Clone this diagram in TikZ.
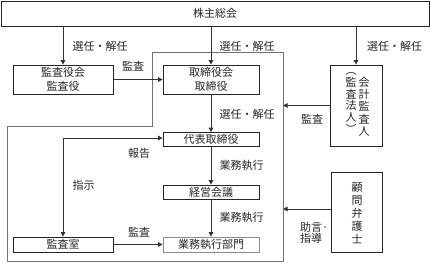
\documentclass[tikz,border=0pt]{standalone}
\usepackage{fontspec}
\newfontfamily\jp{Noto Sans CJK JP}
\usetikzlibrary{arrows.meta}
\begin{document}
\begin{tikzpicture}[x=1pt,y=-1pt,
  font=\jp\fontsize{11}{14.5}\selectfont,
  box/.style={draw=black!85,line width=0.8pt,inner sep=0pt,align=center,text=black!85},
  graybox/.style={box,draw=black!45},
  arr/.style={draw=black!80,line width=1pt,-{Triangle[length=4.5pt,width=4.5pt]}},
  dblarr/.style={draw=black!80,line width=1pt,{Triangle[length=4.5pt,width=4.5pt]}-{Triangle[length=4.5pt,width=4.5pt]}},
  outerline/.style={draw=black!55,line width=0.8pt},
  lbl/.style={inner sep=0pt,text=black!85},
  vcol/.style={inner sep=0pt,align=center,text=black!85}]
\useasboundingbox (0,0) rectangle (430,271);

% outer frame
\draw[outerline] (152,52) -- (283,52) -- (283,261) -- (7,261) -- (7,126) -- (152,126) -- cycle;
\coordinate (oR) at (283,150);

% boxes
\node[box,minimum width=428pt,minimum height=25pt] (kabu) at (215,13.5) {株主総会};
\node[box,minimum width=100pt,minimum height=29pt] (kansayaku) at (63,79.5) {監査役会\\監査役};
\node[box,minimum width=96pt,minimum height=29pt] (tori) at (211,79.5) {取締役会\\取締役};
\node[box,minimum width=52pt,minimum height=81pt] (kaikei) at (356,105.5) {};
\node[vcol,font=\jp\fontsize{11}{12.3}\selectfont] (kaikeiA) at (364,106.5) {会\\計\\監\\査\\人};
\node[vcol,font=\jp\fontsize{11}{11.7}\selectfont] (kaikeiB) at (351,103) {︵\\監\\査\\法\\人\\︶};
\node[box,minimum width=96pt,minimum height=14pt] (daihyo) at (211,139.5) {代表取締役};
\node[box,minimum width=96pt,minimum height=14pt] (keiei) at (211,192) {経営会議};
\node[graybox,minimum width=96pt,minimum height=15pt] (gyomu) at (211,244.5) {業務執行部門};
\node[box,minimum width=100pt,minimum height=15pt] (kansashitsu) at (63,244.5) {監査室};
\node[box,minimum width=51pt,minimum height=80pt] (komon) at (356.5,212) {};
\node[vcol,font=\jp\fontsize{11}{13}\selectfont] (komonT) at (357,213.5) {顧\\問\\弁\\護\\士};

% arrows
\draw[arr] (kabu.south -| kansayaku.north) -- (kansayaku.north);
\draw[arr] (kabu.south -| tori.north) -- (tori.north);
\draw[arr] (kabu.south -| kaikei.north) -- (kaikei.north);
\draw[arr] (kansayaku.east) -- (tori.west);
\draw[arr] (tori.south) -- (daihyo.north);
\draw[arr] (daihyo.south) -- (keiei.north);
\draw[arr] (keiei.south) -- (gyomu.north);
\draw[arr] (kansashitsu.east) -- (gyomu.west);
\coordinate (corner) at (63,138);
\draw[dblarr] (kansashitsu.north) -- (corner) -- (corner -| daihyo.west);
\draw[arr] (kaikei.west) -- (kaikei.west -| oR);
\draw[arr] ([yshift=3pt]komon.west) -- ([yshift=3pt]komon.west -| oR);

% labels
\node[lbl] (l1) at (100,46) {選任・解任};
\node[lbl] (l2) at (247,46) {選任・解任};
\node[lbl] (l3) at (394.5,46) {選任・解任};
\node[lbl] (l4) at (247,114) {選任・解任};
\node[lbl] (m1) at (133,66) {監査};
\node[lbl] (m2) at (312,119) {監査};
\node[lbl] (m3) at (139,232) {監査};
\node[lbl] (r1) at (139,153) {報告};
\node[lbl] (s1) at (83.5,185) {指示};
\node[lbl] (g1) at (241.5,165) {業務執行};
\node[lbl] (g2) at (241.5,217) {業務執行};
\node[lbl,anchor=west,align=left,font=\jp\fontsize{11}{11}\selectfont] (j1) at (300,232.5) {助言·\\指導};
\end{tikzpicture}
\end{document}
